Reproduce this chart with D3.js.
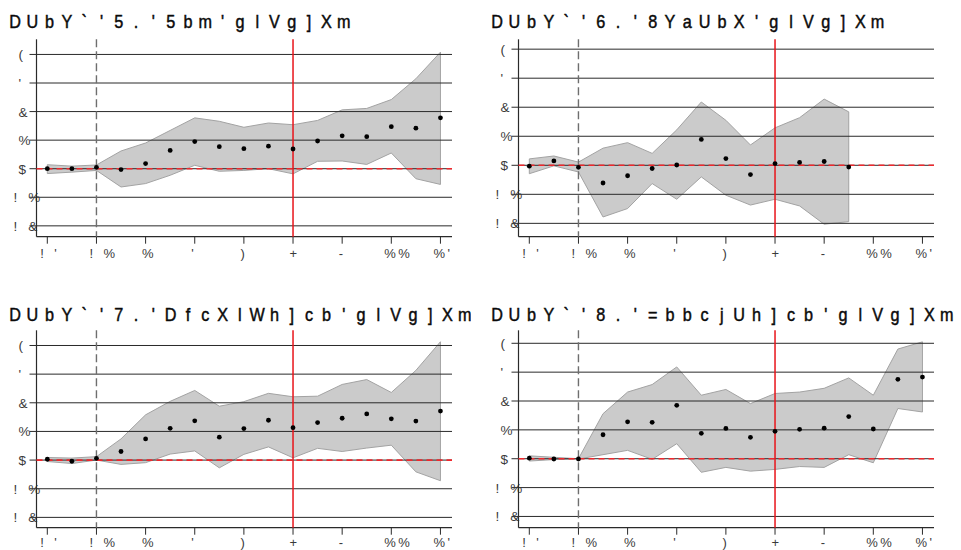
<!DOCTYPE html>
<html>
<head>
<meta charset="utf-8">
<script src="https://cdn.jsdelivr.net/npm/d3@7"></script>
<style>
  html, body { margin: 0; padding: 0; background: #fff; }
  svg { display: block; }
  text { font-family: "Liberation Sans", Arial, sans-serif; }
</style>
</head>
<body>
<svg id="chart" width="961" height="550"></svg>
<script>
// Event-time periods
const periods = [-3, -2, -1, 0, 1, 2, 3, 4, 5, 6, 7, 8, 9, 10, 11, 12, 13];

// Axis ticks and their labels
const xTicks = [-3, -1, 1, 3, 5, 7, 9, 11, 13];
const xTickLabels = ["!'", "!%", "%", "'", ")", "+", "-", "%%", "%'"];
const yTicks = [4, 3, 2, 1, 0, -1, -2];
const yTickLabels = ["(", "'", "&", "%", "$", "!%", "!&"];

// Panel titles
const titles = [
  "DUbY`'5.'5bm'glVg]Xm",
  "DUbY`'6.'8YaUbX'glVg]Xm",
  "DUbY`'7.'DfcXlWh]cb'glVg]Xm",
  "DUbY`'8.'=bbcjUh]cb'glVg]Xm"
];

// Panel A: point estimates and confidence band
const estA = [0.00, 0.00, 0.05, -0.03, 0.18, 0.64, 0.95, 0.77, 0.70, 0.79, 0.69, 0.97, 1.15, 1.12, 1.47, 1.42, 1.78];
const loA  = [-0.17, -0.12, -0.06, -0.64, -0.52, -0.23, 0.12, -0.09, -0.06, 0.00, -0.18, 0.26, 0.27, 0.15, 0.55, -0.35, -0.55];
const hiA  = [0.14, 0.09, 0.13, 0.62, 0.90, 1.34, 1.78, 1.66, 1.45, 1.60, 1.54, 1.69, 2.06, 2.11, 2.42, 3.15, 4.08];

// Panel B (observed through period 10)
const estB = [-0.03, 0.15, -0.07, -0.61, -0.36, -0.11, 0.01, 0.89, 0.23, -0.32, 0.06, 0.10, 0.13, -0.06];
const loB  = [-0.29, -0.02, -0.23, -1.78, -1.49, -0.63, -1.17, -0.40, -1.03, -1.37, -1.17, -1.40, -2.03, -1.94];
const hiB  = [0.22, 0.32, 0.11, 0.59, 0.78, 0.41, 1.22, 2.18, 1.55, 0.70, 1.29, 1.64, 2.28, 1.84];

// Panel C
const estC = [0.03, -0.04, 0.06, 0.30, 0.74, 1.11, 1.37, 0.80, 1.10, 1.39, 1.13, 1.31, 1.46, 1.61, 1.44, 1.36, 1.71];
const loC  = [-0.05, -0.12, 0.00, -0.15, -0.09, 0.21, 0.32, -0.27, 0.20, 0.46, 0.08, 0.41, 0.30, 0.42, 0.52, -0.41, -0.72];
const hiC  = [0.09, 0.07, 0.12, 0.74, 1.58, 2.05, 2.43, 1.88, 2.04, 2.33, 2.21, 2.23, 2.64, 2.81, 2.36, 3.13, 4.13];

// Panel D
const estD = [0.02, -0.01, -0.01, 0.83, 1.28, 1.26, 1.85, 0.88, 1.05, 0.74, 0.95, 1.02, 1.06, 1.46, 1.03, 2.75, 2.83];
const loD  = [-0.08, -0.03, -0.01, 0.14, 0.29, -0.02, 0.52, -0.47, -0.30, -0.43, -0.37, -0.27, -0.30, 0.14, -0.14, 1.74, 1.62];
const hiD  = [0.10, 0.05, 0.00, 1.56, 2.31, 2.57, 3.18, 2.20, 2.40, 1.91, 2.26, 2.31, 2.44, 2.80, 2.20, 3.80, 4.05];

// Vertical reference lines
const eventStart = -1;
const policyLine = 7;

const panels = [
  { title: titles[0], est: estA, lo: loA, hi: hiA, ox: 0,   oy: 0,   ty: 27.5, lx: 21,   yDom: [-2.38, 4.53], clip: true },
  { title: titles[1], est: estB, lo: loB, hi: hiB, ox: 482, oy: 0,   ty: 27.5, lx: 21,   yDom: [-2.46, 4.34], clip: false },
  { title: titles[2], est: estC, lo: loC, hi: hiC, ox: 0,   oy: 291, ty: 29.5, lx: 19.3, yDom: [-2.36, 4.53], clip: true },
  { title: titles[3], est: estD, lo: loD, hi: hiD, ox: 482, oy: 291, ty: 29.5, lx: 19.3, yDom: [-2.39, 4.45], clip: false }
];

const svg = d3.select("#chart");
const L = 36.5, R = 452, T = 39.3, B = 236.7;

svg.append("defs").append("clipPath").attr("id", "leftTitleClip")
  .append("rect").attr("x", 0).attr("y", 0).attr("width", 471).attr("height", 40);

panels.forEach(p => {
  const g = svg.append("g").attr("transform", `translate(${p.ox},${p.oy})`);

  const x = d3.scaleLinear().domain([-3.44, 13.47]).range([L, R]);
  const y = d3.scaleLinear().domain(p.yDom).range([B, T]);

  // Title, one glyph per cell
  const tg = g.append("g");
  if (p.clip) tg.attr("clip-path", "url(#leftTitleClip)");
  Array.from(p.title).forEach((ch, i) => {
    tg.append("text")
      .attr("transform", `translate(${15 + i * 17.3},${p.ty}) scale(0.9,1)`)
      .attr("text-anchor", "middle")
      .attr("font-size", 18)
      .attr("fill", "#0a0a0a")
      .attr("stroke", "#0a0a0a")
      .attr("stroke-width", 0.45)
      .text(ch);
  });

  // Confidence band
  const n = p.est.length;
  const bandData = d3.range(n).map(i => ({ t: periods[i], lo: p.lo[i], hi: p.hi[i] }));
  g.append("path")
    .datum(bandData)
    .attr("d", d3.area().x(d => x(d.t)).y0(d => y(d.lo)).y1(d => y(d.hi)))
    .attr("fill", "#cbcbcb")
    .attr("stroke", "#a3a3a3")
    .attr("stroke-width", 1);

  // Horizontal grid lines with left ticks
  g.append("g").selectAll("line").data(yTicks).join("line")
    .attr("x1", L - 7).attr("x2", R)
    .attr("y1", d => y(d)).attr("y2", d => y(d))
    .attr("stroke", "#2a2a2a").attr("stroke-width", 1);

  // Y tick labels
  yTicks.forEach((v, i) => {
    const chars = Array.from(yTickLabels[i]);
    const xs = chars.length === 1 ? [18.5] : [13.5, 28.3];
    chars.forEach((ch, j) => {
      g.append("text")
        .attr("x", xs[j]).attr("y", y(v) + 5)
        .attr("font-size", 13.5).attr("fill", "#3a3a3a")
        .text(ch);
    });
  });

  // Axes
  g.append("line").attr("x1", L).attr("x2", L).attr("y1", T).attr("y2", B)
    .attr("stroke", "#2a2a2a").attr("stroke-width", 1.2);
  g.append("line").attr("x1", L).attr("x2", R).attr("y1", B).attr("y2", B)
    .attr("stroke", "#2a2a2a").attr("stroke-width", 1.2);
  g.append("g").selectAll("line").data(xTicks).join("line")
    .attr("x1", d => x(d)).attr("x2", d => x(d))
    .attr("y1", B).attr("y2", B + 7)
    .attr("stroke", "#2a2a2a").attr("stroke-width", 1);

  // X tick labels
  xTicks.forEach((v, i) => {
    const chars = Array.from(xTickLabels[i]);
    const xs = chars.length === 1 ? [x(v) - 3.5] : [x(v) - 7, x(v) + 7];
    chars.forEach((ch, j) => {
      g.append("text")
        .attr("x", xs[j]).attr("y", B + p.lx)
        .attr("font-size", 13).attr("fill", "#3a3a3a")
        .text(ch);
    });
  });

  // Event start (dashed grey) and policy line (red)
  g.append("line")
    .attr("x1", x(eventStart)).attr("x2", x(eventStart))
    .attr("y1", T).attr("y2", B)
    .attr("stroke", "#6e6e6e").attr("stroke-width", 1.4)
    .attr("stroke-dasharray", "8,4");
  g.append("line")
    .attr("x1", x(policyLine)).attr("x2", x(policyLine))
    .attr("y1", T).attr("y2", B)
    .attr("stroke", "#e8141a").attr("stroke-width", 1.5);

  // Zero reference (red dashed)
  g.append("line")
    .attr("x1", L).attr("x2", R)
    .attr("y1", y(0)).attr("y2", y(0))
    .attr("stroke", "#f0282d").attr("stroke-width", 1.6)
    .attr("stroke-dasharray", "6,4");

  // Point estimates
  g.append("g").selectAll("circle").data(d3.range(n)).join("circle")
    .attr("cx", i => x(periods[i]))
    .attr("cy", i => y(p.est[i]))
    .attr("r", 2.4)
    .attr("fill", "#000");
});
</script>
</body>
</html>
